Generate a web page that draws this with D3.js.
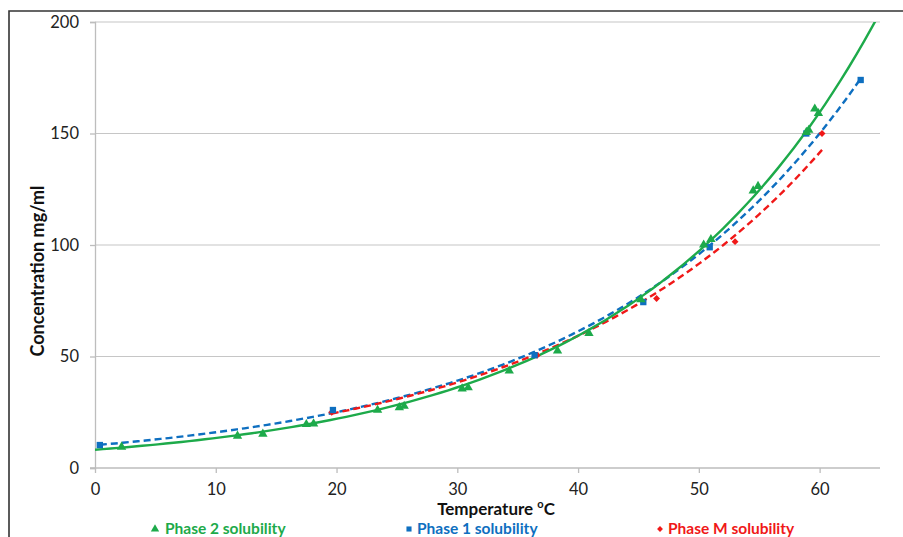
<!DOCTYPE html>
<html><head><meta charset="utf-8">
<script src="https://cdn.jsdelivr.net/npm/d3@7"></script>
<style>body{margin:0;background:#fff}svg{display:block}</style>
</head><body>
<script>
// Data (temperature °C, concentration mg/ml)
const phase2 = [[2.2,9.9],[11.8,14.8],[13.9,15.7],[17.5,20.0],[18.1,20.3],[23.4,26.4],[25.2,27.6],[25.6,28.2],[30.4,36.0],[30.9,36.5],[34.3,44.0],[38.3,53.0],[40.9,60.8],[45.2,76.0],[50.4,100.5],[51.0,103.0],[54.5,124.8],[54.9,126.8],[58.9,151.0],[59.1,152.0],[59.6,161.5],[59.9,159.5]];
const phase1 = [[0.4,10.3],[19.7,26.0],[36.4,50.6],[45.4,74.4],[50.9,99.0],[58.9,150.0],[63.4,174.0]];
const phaseM = [[19.6,25.0],[36.6,50.5],[46.5,76.0],[53.0,101.5],[60.2,150.0]];
// trendline x-extents
const trend2Range = [0, 65];
const trend1Range = [0.4, 63.4];
const trendMRange = [19.6, 60.2];
const xTicks = [0,10,20,30,40,50,60];
const yTicks = [0,50,100,150,200];
const legendLabels = ["Phase 2 solubility","Phase 1 solubility","Phase M solubility"];

const W=903,H=537;
const svg=d3.select("body").append("svg").attr("width",W).attr("height",H);
const font="Lato, 'Open Sans', sans-serif";
const x=d3.scaleLinear().domain([0,65]).range([95,880]);
const y=d3.scaleLinear().domain([0,200]).range([468,22]);
const cG="#1DAA4A", cB="#0E6FC0", cR="#F01818";

svg.append("clipPath").attr("id","plot").append("rect")
  .attr("x",x(0)).attr("y",y(200)).attr("width",x(65)-x(0)).attr("height",y(0)-y(200));

// frame
svg.append("path").attr("d","M9,537 L9,11 L903,11").attr("fill","none").attr("stroke","#333").attr("stroke-width",1.6);

// gridlines
svg.append("g").selectAll("line").data(yTicks.filter(d=>d>0)).join("line")
  .attr("x1",x(0)).attr("x2",x(65)).attr("y1",d=>y(d)).attr("y2",d=>y(d))
  .attr("stroke","#c6c6c6").attr("stroke-width",1.2);

// axes
const yAx=svg.append("g").attr("transform",`translate(${x(0)},0)`)
  .call(d3.axisLeft(y).tickValues(yTicks).tickSize(5).tickPadding(11));
const xAx=svg.append("g").attr("transform",`translate(0,${y(0)})`)
  .call(d3.axisBottom(x).tickValues(xTicks).tickSize(5).tickPadding(10));
[yAx,xAx].forEach(g=>{
  g.selectAll("path").attr("stroke","#bdbdbd").attr("stroke-width",1.3);
  g.selectAll("line").attr("stroke","#bdbdbd").attr("stroke-width",1.3);
  g.selectAll("text").attr("font-family",font).attr("font-size",16.5).attr("fill","#222");
});
xAx.select("path").attr("d",`M${x(0)-5},0H${x(65)}`);

// exponential least-squares fit on ln(y)
function expFit(data){
  const mx=d3.mean(data,d=>d[0]), ml=d3.mean(data,d=>Math.log(d[1]));
  let sxy=0,sxx=0;
  data.forEach(d=>{sxy+=(d[0]-mx)*(Math.log(d[1])-ml);sxx+=(d[0]-mx)**2;});
  const b=sxy/sxx, a=Math.exp(ml-b*mx);
  return t=>a*Math.exp(b*t);
}
function trend(data,range,color,dash){
  const f=expFit(data);
  const ts=d3.range(range[0],range[1]+0.001,(range[1]-range[0])/100);
  svg.append("path").datum(ts.map(t=>[t,f(t)]))
    .attr("clip-path","url(#plot)")
    .attr("d",d3.line().x(d=>x(d[0])).y(d=>y(d[1])))
    .attr("fill","none").attr("stroke",color).attr("stroke-width",2.4)
    .attr("stroke-dasharray",dash||null);
}
trend(phase1,trend1Range,cB,"7,4");
trend(phaseM,trendMRange,cR,"7,4");
trend(phase2,trend2Range,cG,null);

// markers
svg.append("g").selectAll("path").data(phaseM).join("path")
  .attr("transform",d=>`translate(${x(d[0])},${y(d[1])})`)
  .attr("d",d3.symbol(d3.symbolDiamond2,30)).attr("fill",cR);
svg.append("g").selectAll("path").data(phase1).join("path")
  .attr("transform",d=>`translate(${x(d[0])},${y(d[1])})`)
  .attr("d",d3.symbol(d3.symbolSquare,40)).attr("fill",cB);
svg.append("g").selectAll("path").data(phase2).join("path")
  .attr("transform",d=>`translate(${x(d[0])},${y(d[1])+1})`)
  .attr("d",d3.symbol(d3.symbolTriangle,38)).attr("fill",cG);

// axis titles
svg.append("text").attr("x",496).attr("y",515).attr("text-anchor","middle")
  .attr("font-family",font).attr("font-weight","bold").attr("font-size",17).attr("fill","#111")
  .call(t=>{t.append("tspan").text("Temperature ");
    t.append("tspan").attr("font-size",11).attr("dy",-7).text("o");
    t.append("tspan").attr("dy",7).text("C");});
svg.append("text").attr("transform","translate(44,271) rotate(-90)").attr("text-anchor","middle")
  .attr("font-family",font).attr("font-weight","bold").attr("font-size",18).attr("fill","#111")
  .text("Concentration mg/ml");

// legend
const leg=[{x:155,t:165,c:cG,s:d3.symbolTriangle,sz:30},{x:409,t:417,c:cB,s:d3.symbolSquare,sz:26},{x:660,t:668,c:cR,s:d3.symbolDiamond2,sz:22}];
leg.forEach((l,i)=>{
  svg.append("path").attr("transform",`translate(${l.x},${529})`).attr("d",d3.symbol(l.s,l.sz)).attr("fill",l.c);
  svg.append("text").attr("x",l.t).attr("y",534).attr("font-family",font).attr("font-weight","bold")
    .attr("font-size",15.5).attr("fill",l.c).text(legendLabels[i]);
});
</script>
</body></html>
